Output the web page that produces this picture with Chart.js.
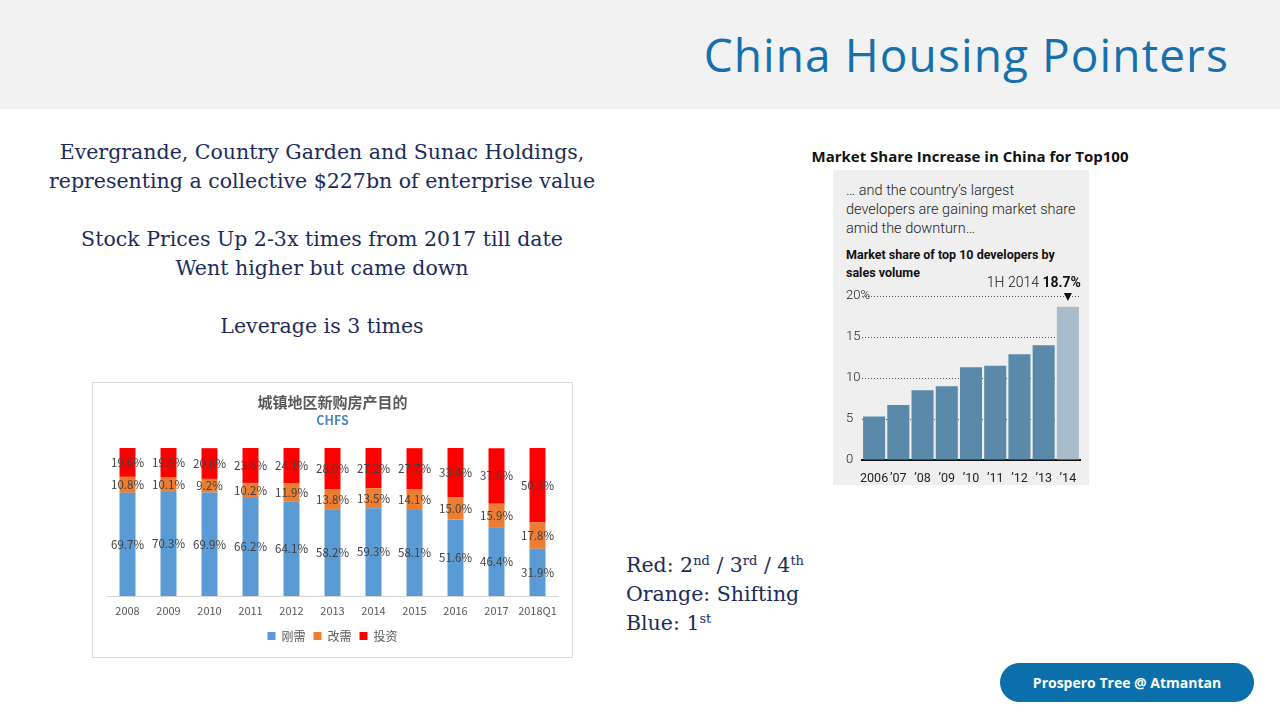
<!DOCTYPE html>
<html>
<head>
<meta charset="utf-8">
<script src="https://cdn.jsdelivr.net/npm/chart.js@4.4.1/dist/chart.umd.min.js"></script>
<style>
  html, body { margin: 0; padding: 0; }
  body { width: 1280px; height: 720px; position: relative; overflow: hidden; background: #fff; font-family: "Open Sans", sans-serif; }
  .band { position: absolute; left: 0; top: 0; width: 1280px; height: 109px; background: #f2f2f2; }
  .headline { position: absolute; right: 51px; top: 23px; font-family: "Open Sans", sans-serif; font-size: 46px; color: #1471ad; letter-spacing: 1.1px; }
  .serif { position: absolute; font-family: "DejaVu Serif", serif; font-size: 20.5px; color: #1c2b5a; line-height: 29px; }
  .intro { left: 22px; top: 138px; width: 600px; text-align: center; }
  .notes { left: 626px; top: 551px; }
  .notes sup { font-size: 13px; vertical-align: 7px; line-height: 0; }
  .box-left { position: absolute; left: 92px; top: 382px; width: 479px; height: 274px; border: 1px solid #d9d9d9; }
  .share-title { position: absolute; left: 770px; top: 146px; width: 400px; text-align: center; font-family: "Open Sans", sans-serif; font-weight: bold; font-size: 15px; color: #111; }
  .panel { position: absolute; left: 833px; top: 170px; width: 256px; height: 315px; background: #efefef; }
  .panel .lead { position: absolute; left: 13px; top: 11px; font-family: Roboto, sans-serif; font-weight: 300; font-size: 14.5px; line-height: 19px; color: #222; }
  .panel .sub { position: absolute; left: 13px; top: 76px; font-family: Roboto, sans-serif; font-weight: bold; font-size: 12.5px; line-height: 18px; color: #111; }
  .panel .chartbox { position: absolute; left: 0; top: 106px; width: 256px; height: 209px; }
  .pill { position: absolute; left: 1000px; top: 663px; width: 254px; height: 39px; border-radius: 20px; background: #0a6fab; color: #fff; font-family: "Open Sans", sans-serif; font-weight: bold; font-size: 14px; line-height: 39px; text-align: center; }
</style>
</head>
<body>
<div class="band"></div>
<div class="headline">China Housing Pointers</div>

<div class="serif intro">
  Evergrande, Country Garden and Sunac Holdings,<br>
  representing a collective $227bn of enterprise value<br>
  <br>
  Stock Prices Up 2-3x times from 2017 till date<br>
  Went higher but came down<br>
  <br>
  Leverage is 3 times
</div>

<div class="box-left"><canvas id="purposeChart"></canvas></div>

<div class="serif notes">
  Red: 2<sup>nd</sup> / 3<sup>rd</sup> / 4<sup>th</sup><br>
  Orange: Shifting<br>
  Blue: 1<sup>st</sup>
</div>

<div class="share-title">Market Share Increase in China for Top100</div>
<div class="panel">
  <div class="lead">… and the country’s largest<br>developers are gaining market share<br>amid the downturn…</div>
  <div class="sub">Market share of top 10 developers by<br>sales volume</div>
  <div class="chartbox"><canvas id="shareChart"></canvas></div>
</div>

<div class="pill">Prospero Tree @ Atmantan</div>

<script>
// 城镇地区新购房产目的 (CHFS), percent of purchases
const purposeYears = ["2008", "2009", "2010", "2011", "2012", "2013", "2014", "2015", "2016", "2017", "2018Q1"];
const firstNeed = [69.7, 70.3, 69.9, 66.2, 64.1, 58.2, 59.3, 58.1, 51.6, 46.4, 31.9];
const upgradeNeed = [10.8, 10.1, 9.2, 10.2, 11.9, 13.8, 13.5, 14.1, 15.0, 15.9, 17.8];
const investment = [19.6, 19.6, 20.8, 23.6, 24.1, 28.0, 27.2, 27.7, 33.4, 37.6, 50.3];

// market share of top 10 developers by sales volume
const shareYears = ["2006", "’07", "’08", "’09", "’10", "’11", "’12", "’13", "’14"];
const shareValues = [5.3, 6.7, 8.5, 9.0, 11.3, 11.5, 12.9, 14.0, 18.7];
const shareTicks = [0, 5, 10, 15, 20];

const cjk = '"Noto Sans CJK SC", "Noto Sans", sans-serif';

// labels in the middle of each stacked segment
const segmentLabels = {
  id: "segmentLabels",
  afterDatasetsDraw(chart) {
    const ctx = chart.ctx;
    ctx.save();
    ctx.font = "11.5px " + cjk;
    ctx.fillStyle = "#404040";
    ctx.textAlign = "center";
    ctx.textBaseline = "middle";
    chart.data.datasets.forEach((ds, i) => {
      chart.getDatasetMeta(i).data.forEach((bar, j) => {
        ctx.fillText(ds.data[j].toFixed(1) + "%", bar.x, (bar.y + bar.base) / 2);
      });
    });
    ctx.restore();
  }
};

new Chart(document.getElementById("purposeChart"), {
  type: "bar",
  data: {
    labels: purposeYears,
    datasets: [
      { label: "刚需", data: firstNeed, backgroundColor: "#5b9bd5" },
      { label: "改需", data: upgradeNeed, backgroundColor: "#ed7d31" },
      { label: "投资", data: investment, backgroundColor: "#ff0000" }
    ]
  },
  options: {
    responsive: true,
    maintainAspectRatio: false,
    animation: false,
    layout: { padding: { left: 14, right: 14, top: 8, bottom: 5 } },
    datasets: { bar: { barPercentage: 0.39, categoryPercentage: 1 } },
    plugins: {
      title: {
        display: true,
        text: "城镇地区新购房产目的",
        color: "#595959",
        font: { family: cjk, size: 15, weight: "bold" },
        padding: { top: 2, bottom: 2 }
      },
      subtitle: {
        display: true,
        text: "CHFS",
        color: "#4a86c8",
        font: { family: cjk, size: 12.5, weight: "bold" },
        padding: { bottom: 20 }
      },
      legend: {
        position: "bottom",
        labels: { boxWidth: 8, boxHeight: 8, padding: 8, color: "#595959", font: { family: cjk, size: 12 } }
      },
      tooltip: { enabled: false }
    },
    scales: {
      x: {
        stacked: true,
        grid: { display: false },
        border: { color: "#d9d9d9" },
        afterFit: (s) => { s.height = 26; },
        ticks: { color: "#595959", font: { family: cjk, size: 11 }, padding: 0, maxRotation: 0, minRotation: 0, autoSkip: false }
      },
      y: { stacked: true, display: false, min: 0, max: 100 }
    }
  },
  plugins: [segmentLabels]
});

// "1H 2014 18.7%" callout with a small pointer above the last bar
const lastBarNote = {
  id: "lastBarNote",
  afterDatasetsDraw(chart) {
    const ctx = chart.ctx;
    const bars = chart.getDatasetMeta(0).data;
    const bar = bars[bars.length - 1];
    const yTop = chart.scales.y.getPixelForValue(20);
    const right = bar.x + bar.width / 2 + 2;
    ctx.save();
    ctx.textBaseline = "middle";
    ctx.textAlign = "right";
    ctx.fillStyle = "#111";
    ctx.font = "bold 14px Roboto, sans-serif";
    const boldText = shareValues[shareValues.length - 1].toFixed(1) + "%";
    ctx.fillText(boldText, right, yTop - 13);
    const bw = ctx.measureText(boldText).width;
    ctx.font = "300 14px Roboto, sans-serif";
    ctx.fillText("1H 2014 ", right - bw, yTop - 13);
    ctx.beginPath();
    ctx.moveTo(bar.x - 4, yTop - 3);
    ctx.lineTo(bar.x + 4, yTop - 3);
    ctx.lineTo(bar.x, yTop + 5);
    ctx.closePath();
    ctx.fill();
    ctx.restore();
  }
};

new Chart(document.getElementById("shareChart"), {
  type: "bar",
  data: {
    labels: shareYears,
    datasets: [{
      data: shareValues,
      backgroundColor: (c) => c.dataIndex === shareValues.length - 1 ? "#a8bccb" : "#5b89a9",
      barPercentage: 0.91,
      categoryPercentage: 1
    }]
  },
  options: {
    responsive: true,
    maintainAspectRatio: false,
    animation: false,
    layout: { padding: { left: 13, right: 9, top: 20, bottom: 0 } },
    plugins: { legend: { display: false }, tooltip: { enabled: false } },
    scales: {
      x: {
        grid: { display: false },
        border: { color: "#111", width: 2 },
        afterFit: (s) => { s.height = 25; },
        ticks: { color: "#222", font: { family: "Roboto", size: 12.5 }, padding: 3, maxRotation: 0, minRotation: 0, autoSkip: false }
      },
      y: {
        min: 0,
        max: 20,
        afterFit: (s) => { s.width = 16; },
        afterBuildTicks: (s) => { s.ticks = shareTicks.map((v) => ({ value: v })); },
        border: { display: false, dash: [1, 2] },
        grid: {
          color: (c) => c.tick.value === 0 ? "rgba(0,0,0,0)" : "#555",
          drawTicks: false
        },
        ticks: {
          mirror: true,
          padding: -16,
          color: "#222",
          font: { family: "Roboto", size: 13, weight: 300 },
          callback: (v) => v === 20 ? v + "%" : v
        }
      }
    }
  },
  plugins: [lastBarNote]
});
</script>
</body>
</html>
